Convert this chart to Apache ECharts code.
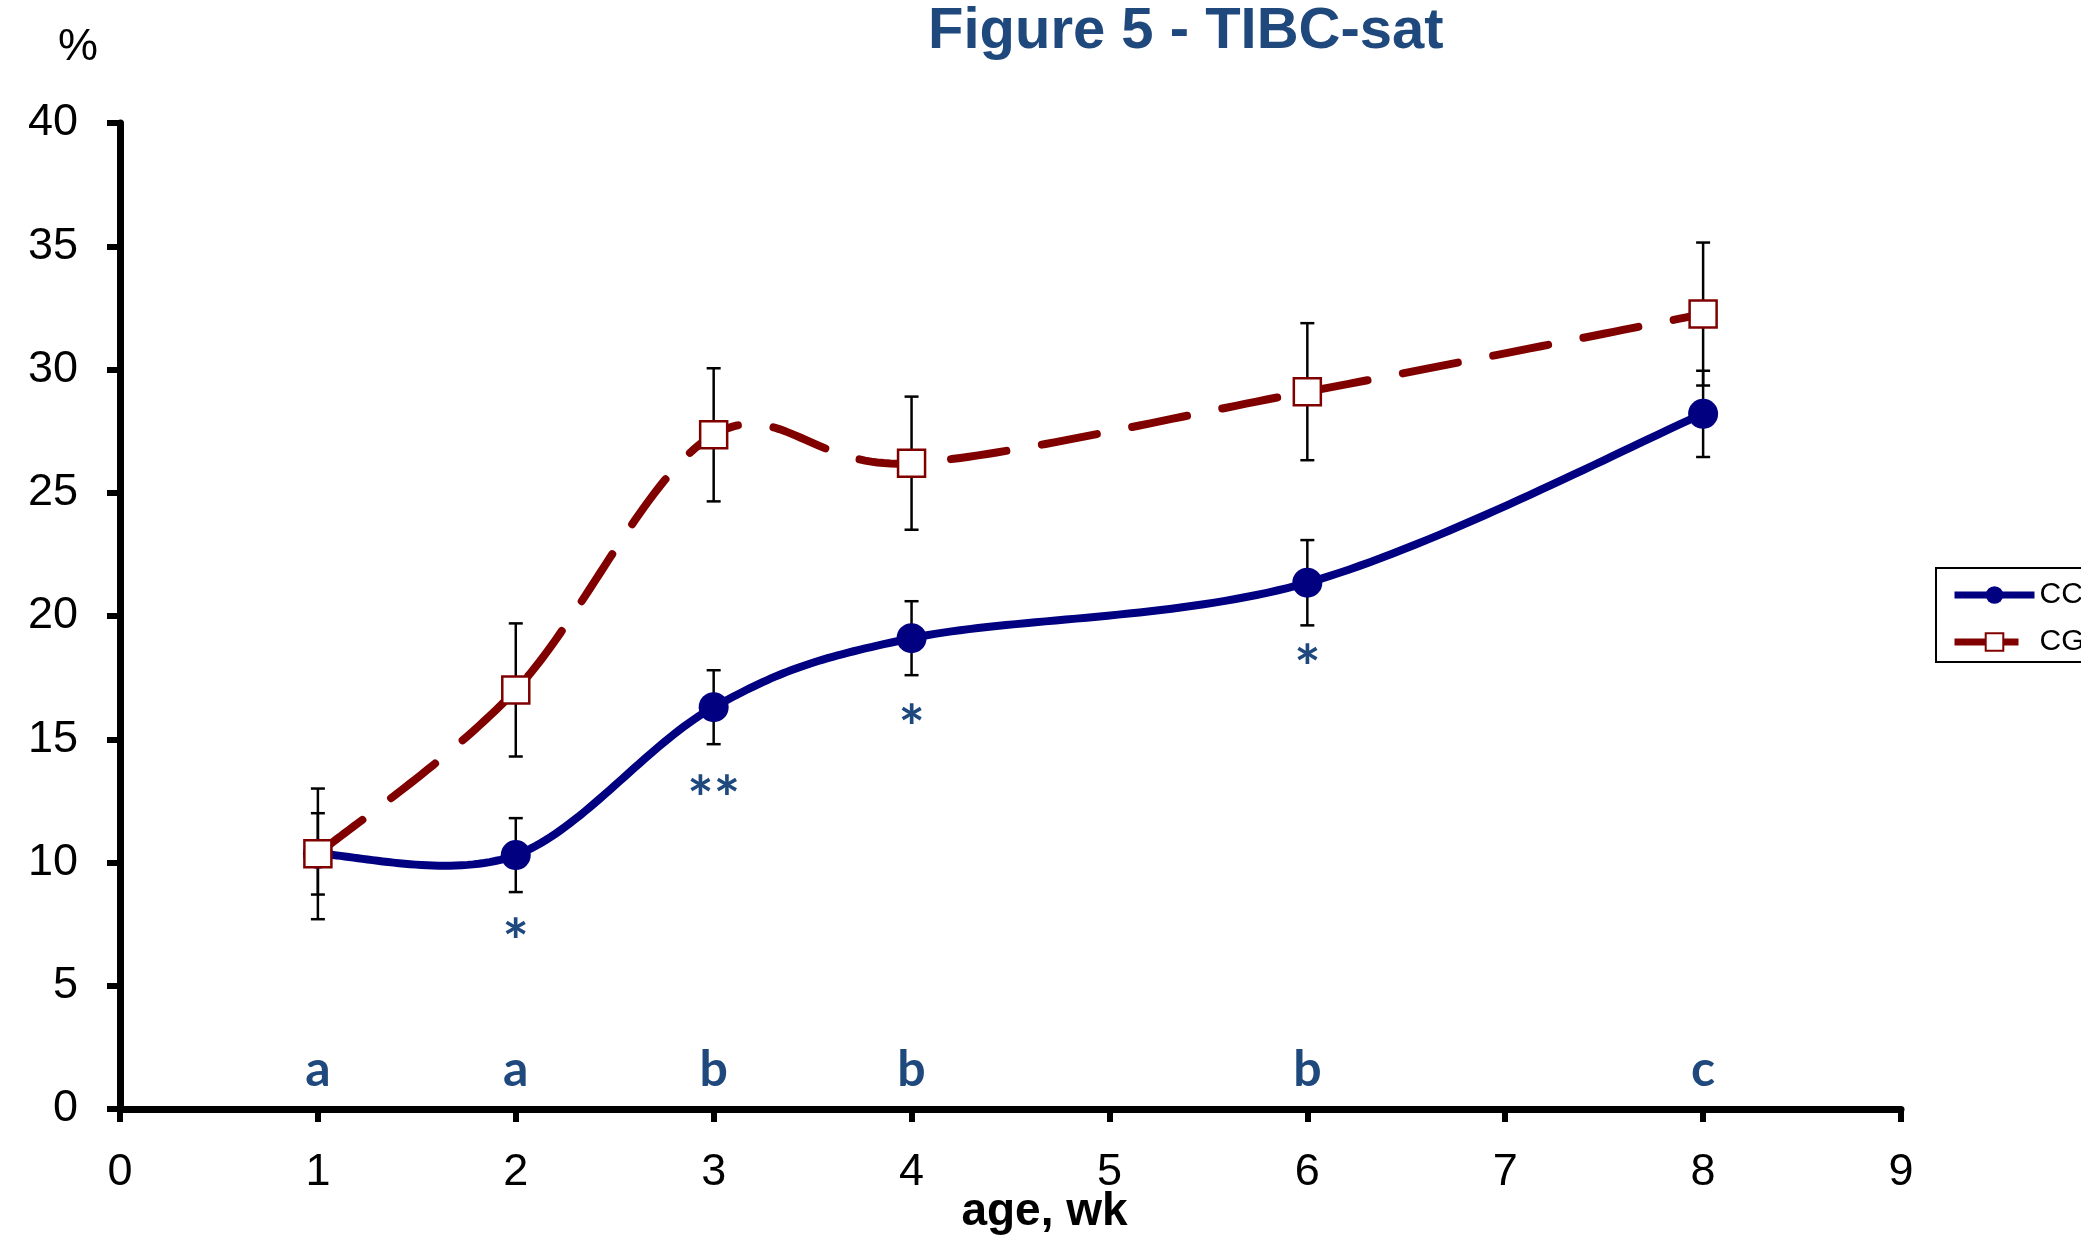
<!DOCTYPE html>
<html>
<head>
<meta charset="utf-8">
<script src="https://cdn.jsdelivr.net/npm/echarts@6/dist/echarts.min.js"></script>
<style>
    html, body {
        margin: 0;
        padding: 0;
        background: #fff;
    }

    #chart {
        width: 2081px;
        height: 1235px;
    }
</style>
</head>
<body>
<div id="chart"></div>
<script>
// values (age in weeks, TIBC saturation %)
const weeks = [1, 2, 3, 4, 6, 8];
const ccMean = [10.35, 10.3, 16.3, 19.1, 21.35, 28.2];
const ccErr = [1.65, 1.5, 1.5, 1.5, 1.73, 1.75];
const cgMean = [10.35, 17.0, 27.35, 26.2, 29.1, 32.25];
const cgErr = [2.65, 2.7, 2.7, 2.7, 2.78, 2.9];

// letters over the x axis and asterisks under the CC points
const groupLetters = ["a", "a", "b", "b", "b", "c"];
const letterLevel = 1.6;
const sigWeeks = [2, 3, 4, 6];
const sigMarks = ["*", "**", "*", "*"];
const sigLevel = [7.3, 13.1, 16.0, 18.4];

const yTicks = [0, 5, 10, 15, 20, 25, 30, 35, 40];
const xTicks = [0, 1, 2, 3, 4, 5, 6, 7, 8, 9];

const navy = "#000080";
const darkRed = "#800000";
const noteBlue = "#1F497D";
const baseFont = "'Liberation Sans', Arial, sans-serif";
const noteFont = "Lato, 'Noto Sans', sans-serif";

const toPairs = (means) => weeks.map((w, i) => [w, means[i]]);
const toBars = (means, errs) => weeks.map((w, i) => [w, means[i] - errs[i], means[i] + errs[i]]);

function renderErrorBar(params, api) {
    const x = api.value(0);
    const lo = api.coord([x, api.value(1)]);
    const hi = api.coord([x, api.value(2)]);
    const cap = 7;
    const style = { stroke: "#000", lineWidth: 2.5 };
    return {
        type: "group",
        children: [
            { type: "line", shape: { x1: hi[0], y1: hi[1], x2: lo[0], y2: lo[1] }, style },
            { type: "line", shape: { x1: hi[0] - cap, y1: hi[1], x2: hi[0] + cap, y2: hi[1] }, style },
            { type: "line", shape: { x1: lo[0] - cap, y1: lo[1], x2: lo[0] + cap, y2: lo[1] }, style },
        ],
    };
}

// spreadsheet-style smoothed line (catmull-rom, control arms = 1/6 of neighbour span)
// drawn once through the axis scale; markers come from the line series
function curveRenderer(means, lineStyle) {
    return (params, api) => {
        if (params.dataIndex !== 0) {
            return { type: "group", children: [] };
        }
        const pts = weeks.map((w, i) => api.coord([w, means[i]]));
        const last = pts.length - 1;
        const out = [pts[0]];
        for (let i = 0; i < last; i++) {
            const p0 = pts[Math.max(i - 1, 0)];
            const p1 = pts[i];
            const p2 = pts[i + 1];
            const p3 = pts[Math.min(i + 2, last)];
            const c1 = [p1[0] + (p2[0] - p0[0]) / 6, p1[1] + (p2[1] - p0[1]) / 6];
            const c2 = [p2[0] - (p3[0] - p1[0]) / 6, p2[1] - (p3[1] - p1[1]) / 6];
            for (let k = 1; k <= 40; k++) {
                const t = k / 40;
                const a = (1 - t) ** 3;
                const b = 3 * (1 - t) ** 2 * t;
                const c = 3 * (1 - t) * t * t;
                const d = t ** 3;
                out.push([
                    a * p1[0] + b * c1[0] + c * c2[0] + d * p2[0],
                    a * p1[1] + b * c1[1] + c * c2[1] + d * p2[1],
                ]);
            }
        }
        return {
            type: "polyline",
            shape: { points: out },
            style: Object.assign({ fill: null }, lineStyle),
        };
    };
}

function noteRenderer(texts, size, dy) {
    return (params, api) => {
        const p = api.coord([api.value(0), api.value(1)]);
        return {
            type: "text",
            x: p[0],
            y: p[1] + dy,
            style: {
                text: texts[params.dataIndex],
                align: "center",
                verticalAlign: "middle",
                font: `bold ${size}px ${noteFont}`,
                fill: noteBlue,
            },
        };
    };
}

const chart = echarts.init(document.getElementById("chart"));

const option = {
    backgroundColor: "#fff",
    animation: false,
    title: {
        text: "Figure 5 - TIBC-sat",
        left: 928,
        top: 3,
        padding: 0,
        textStyle: {
            fontFamily: baseFont,
            fontSize: 58,
            fontWeight: "bold",
            color: noteBlue,
        },
    },
    graphic: [
        {
            type: "text",
            left: 58,
            top: 25,
            style: {
                text: "%",
                font: "45px " + baseFont,
                fill: "#000",
            },
        },
    ],
    legend: {
        orient: "vertical",
        left: 1936,
        top: 568,
        padding: [12, 80, 5, 15],
        itemWidth: 80,
        itemHeight: 22,
        itemGap: 17,
        borderColor: "#000",
        borderWidth: 2,
        backgroundColor: "#fff",
        textStyle: {
            fontFamily: baseFont,
            fontSize: 30,
            color: "#000",
        },
        data: [
            { name: "CC", lineStyle: { width: 7, opacity: 1, type: "solid" } },
            { name: "CG", lineStyle: { width: 7, opacity: 1, type: [64, 20] } },
        ],
    },
    grid: {
        left: 120,
        right: 180,
        top: 123,
        bottom: 126,
        containLabel: false,
        outerBoundsMode: "none",
    },
    xAxis: {
        type: "value",
        min: 0,
        max: 9,
        interval: 1,
        name: "age, wk",
        nameLocation: "middle",
        nameGap: 80,
        nameMoveOverlap: false,
        nameTextStyle: {
            fontFamily: baseFont,
            fontSize: 46,
            fontWeight: "bold",
            color: "#000",
            padding: [0, 0, 0, 68],
        },
        axisLine: { lineStyle: { color: "#000", width: 7 } },
        axisTick: { length: 13, lineStyle: { color: "#000", width: 6 } },
        axisLabel: {
            margin: 41,
            fontFamily: baseFont,
            fontSize: 45,
            color: "#000",
            formatter: (v) => (xTicks.includes(v) ? String(v) : ""),
        },
        splitLine: { show: false },
    },
    yAxis: {
        type: "value",
        min: 0,
        max: 40,
        interval: 5,
        axisLine: { show: true, lineStyle: { color: "#000", width: 7 } },
        axisTick: { show: true, length: 13, lineStyle: { color: "#000", width: 6 } },
        axisLabel: {
            margin: 42,
            fontFamily: baseFont,
            fontSize: 45,
            color: "#000",
            formatter: (v) => (yTicks.includes(v) ? String(v) : ""),
        },
        splitLine: { show: false },
    },
    series: [
        {
            name: "CC error",
            type: "custom",
            z: 1,
            renderItem: renderErrorBar,
            data: toBars(ccMean, ccErr),
        },
        {
            name: "CG error",
            type: "custom",
            z: 1,
            renderItem: renderErrorBar,
            data: toBars(cgMean, cgErr),
        },
        {
            name: "CC curve",
            type: "custom",
            z: 2,
            renderItem: curveRenderer(ccMean, { stroke: navy, lineWidth: 8, lineCap: "round" }),
            data: toPairs(ccMean),
        },
        {
            name: "CC",
            type: "line",
            z: 3,
            color: navy,
            symbol: "circle",
            symbolSize: 30,
            itemStyle: { color: navy },
            lineStyle: { color: navy, width: 7, opacity: 0 },
            data: toPairs(ccMean),
        },
        {
            name: "CG curve",
            type: "custom",
            z: 4,
            renderItem: curveRenderer(cgMean, {
                stroke: darkRed, lineWidth: 8, lineCap: "round", lineDash: [56, 36],
            }),
            data: toPairs(cgMean),
        },
        {
            name: "CG",
            type: "line",
            z: 5,
            color: darkRed,
            symbol: "rect",
            symbolSize: 27,
            itemStyle: { color: "#fff", borderColor: darkRed, borderWidth: 2.5 },
            lineStyle: { color: darkRed, width: 7, opacity: 0 },
            data: toPairs(cgMean),
        },
        {
            name: "letters",
            type: "custom",
            z: 6,
            renderItem: noteRenderer(groupLetters, 50, 0),
            data: weeks.map((w) => [w, letterLevel]),
        },
        {
            name: "significance",
            type: "custom",
            z: 6,
            renderItem: noteRenderer(sigMarks, 62, 15),
            data: sigWeeks.map((w, i) => [w, sigLevel[i]]),
        },
    ],
};

chart.setOption(option);
</script>
</body>
</html>
